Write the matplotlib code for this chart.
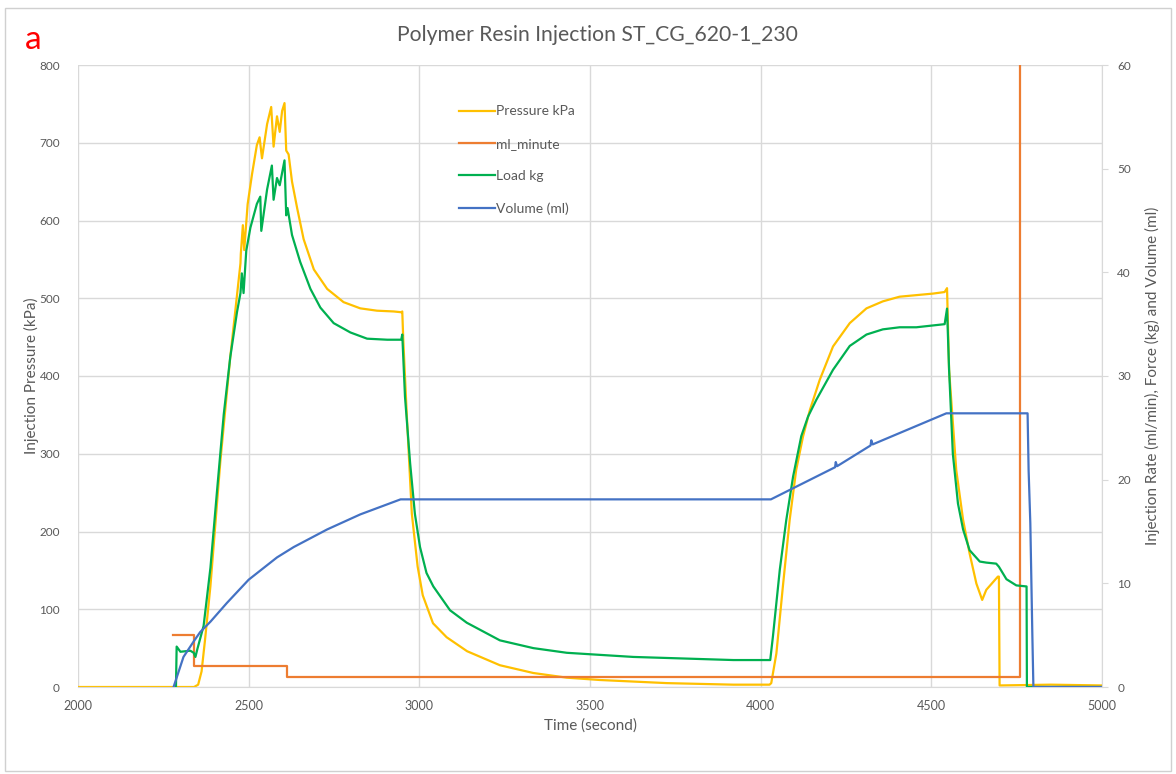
import matplotlib
matplotlib.use("Agg")
import matplotlib.pyplot as plt
from matplotlib.patches import Rectangle

# ---- data -------------------------------------------------------------
# Injection pressure (kPa), left axis
time_pressure = [2000, 2340, 2352, 2362, 2372, 2388, 2417, 2446, 2476, 2477, 2483,
                 2487, 2497, 2510, 2524, 2532, 2539, 2554, 2566, 2573, 2583, 2591,
                 2598, 2605, 2610, 2617, 2627, 2642, 2661, 2691, 2730, 2778, 2827,
                 2876, 2925, 2947, 2950, 2953, 2963, 2978, 2995, 3010, 3040, 3080,
                 3140, 3236, 3334, 3432, 3529, 3627, 3725, 3822, 3920, 4026, 4031,
                 4046, 4065, 4085, 4104, 4124, 4144, 4173, 4212, 4261, 4310, 4358,
                 4407, 4456, 4505, 4539, 4546, 4552, 4559, 4573, 4593, 4612, 4632,
                 4649, 4661, 4681, 4695, 4698, 4700, 4850, 5000]
pressure_kpa = [0, 0, 3, 20, 60, 130, 290, 424, 545, 557, 594,
                562, 621, 660, 697, 707, 680, 724, 746, 695, 734, 714,
                741, 751, 690, 685, 650, 616, 576, 537, 512, 495, 487,
                484, 483, 482, 483, 446, 352, 223, 155, 118, 82, 64,
                46, 28, 18, 12, 9, 7, 5, 4, 3, 3, 5,
                43, 129, 215, 279, 322, 356, 395, 438, 468, 487, 496,
                502, 504, 506, 508, 513, 408, 365, 279, 215, 172, 133,
                112, 125, 135, 142, 142, 2, 3, 2]

# Injection rate (ml/min), right axis, stepwise
time_rate = [2278, 2339, 2613, 4759]
rate_ml_min = [5.0, 2.0, 1.0, 120.0]

# Load (kg), right axis
time_load = [2287, 2289, 2300, 2329, 2339, 2344, 2350, 2368, 2388, 2407, 2427,
             2446, 2466, 2476, 2480, 2485, 2493, 2505, 2524, 2534, 2537, 2554,
             2568, 2573, 2583, 2591, 2605, 2610, 2614, 2627, 2651, 2681, 2710,
             2749, 2798, 2847, 2906, 2947, 2950, 2958, 2973, 2987, 3002, 3021,
             3041, 3090, 3139, 3236, 3334, 3432, 3529, 3627, 3725, 3822, 3920,
             4028, 4036, 4056, 4075, 4095, 4119, 4139, 4163, 4212, 4261, 4310,
             4358, 4407, 4456, 4539, 4546, 4552, 4563, 4578, 4593, 4612, 4642,
             4661, 4690, 4698, 4720, 4749, 4779, 4780, 5000]
load_kg = [0.0, 3.9, 3.4, 3.5, 3.3, 2.9, 3.7, 5.9, 11.5, 18.8, 26.3,
           31.8, 36.2, 38.0, 39.9, 38.0, 42.1, 44.3, 46.6, 47.3, 44.0, 48.0,
           50.3, 47.0, 49.1, 48.4, 50.8, 45.5, 46.2, 43.6, 41.0, 38.4, 36.6,
           35.1, 34.2, 33.6, 33.5, 33.5, 34.0, 28.0, 21.6, 16.7, 13.5, 11.0,
           9.7, 7.4, 6.2, 4.5, 3.75, 3.3, 3.1, 2.9, 2.8, 2.7, 2.6,
           2.6, 4.9, 11.3, 16.1, 20.3, 24.2, 26.1, 27.7, 30.6, 32.9, 34.0,
           34.5, 34.7, 34.7, 35.0, 36.5, 30.6, 22.5, 17.7, 15.2, 13.2, 12.1,
           12.0, 11.9, 11.6, 10.4, 9.8, 9.7, 0.0, 0.0]

# Injected volume (ml), right axis
time_volume = [2280, 2309, 2339, 2358, 2388, 2436, 2500, 2583, 2632, 2730, 2827,
               2945, 3036, 4030, 4218, 4220, 4224, 4322, 4324, 4328, 4544, 4782,
               4785, 4790, 4796, 4799, 5000]
volume_ml = [0.0, 2.9, 4.4, 5.3, 6.3, 8.1, 10.35, 12.5, 13.5, 15.2, 16.65,
             18.1, 18.1, 18.1, 21.2, 21.7, 21.3, 23.3, 23.8, 23.4, 26.4, 26.4,
             20.9, 15.8, 4.9, 0.0, 0.0]

title_text = "Polymer Resin Injection ST_CG_620-1_230"
x_ticks = [2000, 2500, 3000, 3500, 4000, 4500, 5000]
left_ticks = [0, 100, 200, 300, 400, 500, 600, 700, 800]
right_ticks = [0, 10, 20, 30, 40, 50, 60]

# ---- style ------------------------------------------------------------
plt.rcParams["font.family"] = ["Lato", "DejaVu Sans"]
TXT = "#595959"
GRID = "#D9D9D9"
C_PRESS = "#FFC000"
C_RATE = "#ED7D31"
C_LOAD = "#00B050"
C_VOL = "#4472C4"
LW = 1.6

fig = plt.figure(figsize=(11.76, 7.74), dpi=100)
fig.patches.append(Rectangle((0.004, 0.004), 0.992, 0.986, transform=fig.transFigure,
                             fill=False, edgecolor="#D0D0D0", linewidth=1.0))

ax = fig.add_axes([78 / 1176, 1 - 687 / 774, 1024 / 1176, 622 / 774])
ax2 = ax.twinx()

l_p, = ax.plot(time_pressure, pressure_kpa, color=C_PRESS, lw=LW, label="Pressure kPa")
l_r, = ax2.plot(time_rate, rate_ml_min, color=C_RATE, lw=LW, drawstyle="steps-post",
                label="ml_minute")
l_l, = ax2.plot(time_load, load_kg, color=C_LOAD, lw=LW, label="Load kg")
l_v, = ax2.plot(time_volume, volume_ml, color=C_VOL, lw=LW, label="Volume (ml)")

ax.set_xlim(2000, 5000)
ax.set_ylim(0, 800)
ax2.set_ylim(0, 60)
ax.set_xticks(x_ticks)
ax.set_yticks(left_ticks)
ax2.set_yticks(right_ticks)

ax.grid(True, color=GRID, lw=1.0)
ax.set_axisbelow(True)
for s in ["top", "left"]:
    ax.spines[s].set_visible(False)
    ax2.spines[s].set_visible(False)
ax.spines["right"].set_visible(False)
ax.spines["bottom"].set_color(GRID)
ax2.spines["bottom"].set_visible(False)
ax2.spines["right"].set_color(GRID)

ax.tick_params(axis="y", length=0, labelsize=8.5, labelcolor=TXT, pad=13)
ax.tick_params(axis="x", length=0, labelsize=9, labelcolor=TXT, pad=9)
ax2.tick_params(axis="y", length=4, color=GRID, labelsize=8.5, labelcolor=TXT, pad=7)

ax.set_xlabel("Time (second)", fontsize=11, color=TXT, labelpad=5)
ax.set_ylabel("Injection Pressure (kPa)", fontsize=11, color=TXT, labelpad=0)
ax2.set_ylabel("Injection Rate (ml/min), Force (kg) and Volume (ml)", fontsize=11,
               color=TXT, labelpad=10)

fig.text(0.508, 0.955, title_text, ha="center", va="center", fontsize=15.25, color=TXT)
fig.text(0.021, 0.948, "a", ha="left", va="center", fontsize=24, color="#FF0000")

leg = ax2.legend(handles=[l_p, l_r, l_l, l_v], loc="upper left",
                 bbox_to_anchor=(0.372, 0.935), frameon=False, fontsize=10,
                 handlelength=2.6, handletextpad=0.1, labelspacing=1.46,
                 borderpad=0, borderaxespad=0)
for t in leg.get_texts():
    t.set_color(TXT)

fig.savefig("out.png", dpi=100)
